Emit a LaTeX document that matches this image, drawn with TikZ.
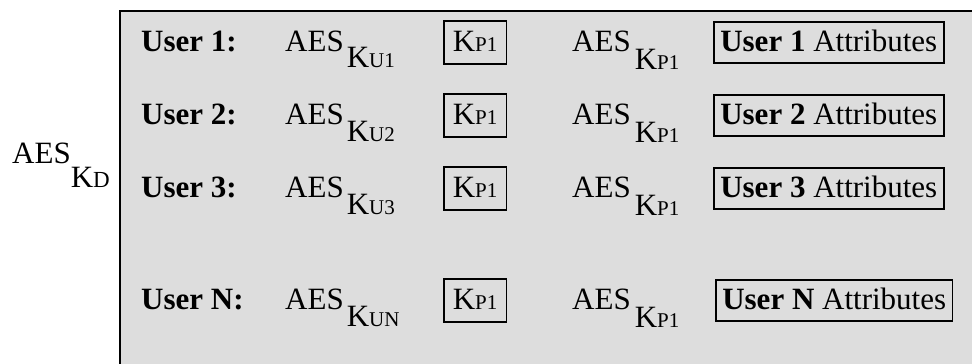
\documentclass[tikz,border=0pt]{standalone}
\usepackage{fontspec}
\setmainfont{Liberation Serif}
\definecolor{panelgray}{RGB}{221,221,221}
\newcommand{\bigfnt}{\fontsize{31pt}{36pt}\selectfont}
\newcommand{\subfnt}{\fontsize{21pt}{23pt}\selectfont}
\newcommand{\aesk}[3]{AES\hspace{#1}\raisebox{-#2}{K{\subfnt #3}}}
\begin{document}
\begin{tikzpicture}[x=1pt,y=-1pt,
  every node/.style={font=\bigfnt, inner sep=0pt},
  lbl/.style={anchor=base west},
  keybox/.style={draw, line width=1.6pt, anchor=base west, inner xsep=9pt, text height=30pt, text depth=13pt},
  attrbox/.style={draw, line width=1.6pt, anchor=base west, inner xsep=6.5pt, text height=29pt, text depth=12pt}]
\useasboundingbox (0,0) rectangle (972,364);
\fill[panelgray] (120,11) rectangle (980,370);
\draw[line width=2pt] (120,372) -- (120,11) -- (980,11);
\node[lbl] (kd) at (12,163) {AES\raisebox{-24pt}{K{\fontsize{23pt}{25pt}\selectfont D}}};
\foreach \r/\y/\ax in {1/51/713, 2/124/713, 3/197/713, N/309/715} {
  \node[lbl] (u\r) at (141,\y) {\textbf{User \r:}};
  \node[lbl] (a\r) at (285,\y) {\aesk{3pt}{17pt}{U\r}};
  \node[keybox] (k\r) at (443,\y) {K{\subfnt P1}};
  \node[lbl] (p\r) at (572,\y) {\aesk{4pt}{18pt}{P1}};
  \node[attrbox] (t\r) at (\ax,\y) {\textbf{User \r} Attributes};
}
\end{tikzpicture}
\end{document}
